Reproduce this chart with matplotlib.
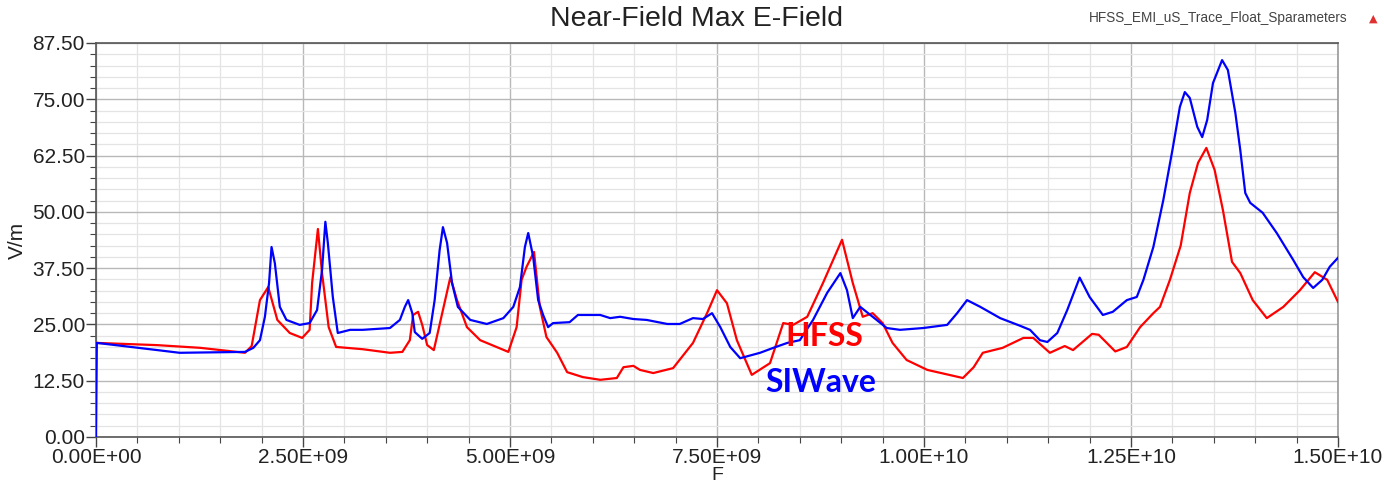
import numpy as np
import matplotlib
matplotlib.use("Agg")
import matplotlib.pyplot as plt
from matplotlib.ticker import MultipleLocator, FuncFormatter

plt.rcParams['font.family'] = ['Liberation Sans', 'DejaVu Sans']

# frequency in GHz, field in V/m
hfss_f = [0.0, 0.74, 1.26, 1.80, 1.88, 1.98, 2.08, 2.19, 2.34, 2.49, 2.58, 2.61, 2.68, 2.73,
          2.81, 2.90, 3.22, 3.55, 3.70, 3.79, 3.83, 3.89, 3.94, 4.00, 4.08, 4.19, 4.28, 4.36,
          4.48, 4.64, 4.98, 5.08, 5.14, 5.20, 5.29, 5.36, 5.44, 5.57, 5.69, 5.88, 6.09, 6.29,
          6.37, 6.49, 6.57, 6.73, 6.97, 7.21, 7.38, 7.50, 7.62, 7.74, 7.92, 8.14, 8.30, 8.42,
          8.59, 8.78, 9.01, 9.14, 9.26, 9.38, 9.50, 9.62, 9.79, 10.04, 10.47, 10.60, 10.71,
          10.95, 11.20, 11.32, 11.52, 11.70, 11.80, 12.03, 12.11, 12.31, 12.45, 12.61, 12.77,
          12.85, 12.97, 13.10, 13.21, 13.31, 13.41, 13.51, 13.61, 13.72, 13.82, 13.97, 14.14,
          14.34, 14.54, 14.72, 14.87, 15.00]
hfss_v = [20.9, 20.4, 19.8, 18.7, 20.2, 30.4, 33.3, 26.0, 23.1, 22.0, 23.8, 34.2, 46.2, 36.4,
          24.4, 20.0, 19.5, 18.7, 18.9, 21.5, 27.1, 27.8, 24.9, 20.4, 19.3, 28.2, 35.5, 30.4,
          24.4, 21.5, 18.9, 24.4, 34.9, 37.8, 41.1, 28.9, 22.2, 18.7, 14.4, 13.3, 12.7, 13.1,
          15.5, 15.8, 14.9, 14.2, 15.3, 20.9, 27.5, 32.6, 29.7, 21.5, 13.8, 16.4, 25.3, 24.9,
          26.7, 34.2, 43.8, 34.2, 26.7, 27.5, 25.3, 20.9, 17.1, 14.9, 13.1, 15.5, 18.7,
          19.8, 22.0, 22.0, 18.7, 20.2, 19.3, 22.9, 22.7, 19.0, 20.0, 24.4, 27.5,
          28.9, 34.9, 42.5, 54.2, 60.9, 64.2, 59.3, 50.4, 38.9, 36.4, 30.4, 26.4,
          28.9, 32.6, 36.6, 34.9, 30.0]

siwave_f = [0.0, 0.01, 0.74, 1.01, 1.80, 1.90, 1.98, 2.04, 2.09, 2.12, 2.16, 2.22, 2.30, 2.46,
            2.58, 2.67, 2.73, 2.77, 2.80, 2.86, 2.92, 3.07, 3.22, 3.55, 3.67, 3.73, 3.77, 3.82,
            3.85, 3.94, 4.03, 4.09, 4.15, 4.19, 4.24, 4.30, 4.37, 4.52, 4.72, 4.92, 5.04, 5.12,
            5.18, 5.22, 5.28, 5.34, 5.40, 5.46, 5.52, 5.72, 5.82, 6.09, 6.21, 6.33, 6.49, 6.65,
            6.90, 7.05, 7.21, 7.33, 7.44, 7.54, 7.66, 7.78, 8.02, 8.18, 8.35, 8.50, 8.66, 8.83,
            8.99, 9.07, 9.14, 9.23, 9.38, 9.55, 9.71, 9.99, 10.28, 10.40, 10.52, 10.68, 10.92,
            11.16, 11.28, 11.40, 11.49, 11.61, 11.73, 11.88, 12.00, 12.16, 12.28, 12.45, 12.57,
            12.65, 12.77, 12.89, 13.00, 13.09, 13.15, 13.21, 13.30, 13.36, 13.42, 13.49, 13.60,
            13.67, 13.76, 13.82, 13.88, 13.94, 14.09, 14.26, 14.46, 14.58, 14.70, 14.81, 14.90,
            15.00]
siwave_v = [0.0, 20.9, 19.3, 18.7, 18.9, 19.8, 21.5, 26.7, 34.2, 42.2, 38.6, 28.9, 26.0, 24.9,
            25.3, 28.2, 37.1, 47.8, 43.1, 31.1, 23.1, 23.8, 23.8, 24.2, 26.0, 28.9, 30.4, 27.5,
            23.3, 21.8, 23.1, 30.4, 41.5, 46.6, 43.1, 34.2, 28.9, 26.0, 25.1, 26.4, 28.9, 33.3,
            42.2, 45.3, 40.0, 30.4, 27.1, 24.4, 25.3, 25.5, 27.1, 27.1, 26.4, 26.7, 26.2, 26.0,
            25.1, 25.1, 26.4, 26.2, 27.5, 24.4, 20.0, 17.5, 18.7, 19.8, 20.9, 21.5, 26.0, 32.0,
            36.4, 32.6, 26.4, 28.9, 26.7, 24.2, 23.8, 24.2, 24.9, 27.5, 30.4, 28.9, 26.4,
            24.7, 23.8, 21.5, 21.1, 23.1, 28.2, 35.4, 31.1, 27.1, 27.8, 30.4, 31.1,
            34.9, 42.2, 52.6, 63.7, 73.3, 76.6, 75.3, 68.9, 66.6, 70.4, 78.6, 83.7,
            81.5, 72.0, 63.7, 54.2, 52.0, 49.8, 45.3, 39.3, 35.5, 33.1, 34.9, 37.8,
            39.8]

W, H = 1384, 482
fig = plt.figure(figsize=(W / 100, H / 100), dpi=100)
ax = fig.add_axes([96 / W, 1 - 437 / H, (1338 - 96) / W, (437 - 43) / H])

ax.plot(np.array(hfss_f) * 1e9, hfss_v, color='#ff0000', lw=1.6, zorder=3)
ax.plot(np.array(siwave_f) * 1e9, siwave_v, color='#0000ff', lw=1.6, zorder=4)

ax.set_xlim(0, 1.5e10)
ax.set_ylim(0, 87.5)
ax.xaxis.set_major_locator(MultipleLocator(2.5e9))
ax.xaxis.set_minor_locator(MultipleLocator(5e8))
ax.yaxis.set_major_locator(MultipleLocator(12.5))
ax.yaxis.set_minor_locator(MultipleLocator(2.5))
ax.xaxis.set_major_formatter(FuncFormatter(lambda v, p: "{:.2E}".format(v)))
ax.yaxis.set_major_formatter(FuncFormatter(lambda v, p: "{:.2f}".format(v)))

ax.grid(which='major', color='#b8b8b8', lw=1.0, zorder=1)
ax.grid(which='minor', color='#e4e4e4', lw=0.9, zorder=0)
ax.set_axisbelow(True)

ax.tick_params(which='major', length=7, width=1, color='#444444', labelsize=15,
               labelcolor='#222222', pad=1)
ax.tick_params(which='minor', length=4, width=0.8, color='#444444')
for s in ax.spines.values():
    s.set_color('#555555')
    s.set_linewidth(1.2)
ax.spines['right'].set_color('#999999')

ax.set_xlabel('F', fontsize=14, color='#222222', labelpad=0)
ax.set_ylabel('V/m', fontsize=15, color='#222222', labelpad=4)

fig.text(0.503, 0.96, 'Near-Field Max E-Field', ha='center', va='center',
         fontsize=20.5, color='#222222')
fig.text(1348 / W, 0.962, 'HFSS_EMI_uS_Trace_Float_Sparameters', ha='right', va='center',
         fontsize=9.8, color='#444444')
fig.text(1373 / W, 0.962, '\u25b2', ha='center', va='center', fontsize=8,
         color='#e03030', family=['DejaVu Sans'])

ax.text(8.32e9, 22.3, 'HFSS', color='#ff0000', fontsize=23, fontweight='bold',
        family=['Lato', 'DejaVu Sans'], va='center', ha='left', zorder=5)
ax.text(8.08e9, 12.2, 'SIWave', color='#0000ff', fontsize=23, fontweight='bold',
        family=['Lato', 'DejaVu Sans'], va='center', ha='left', zorder=5)

fig.savefig('out.png', dpi=100, facecolor='white')
